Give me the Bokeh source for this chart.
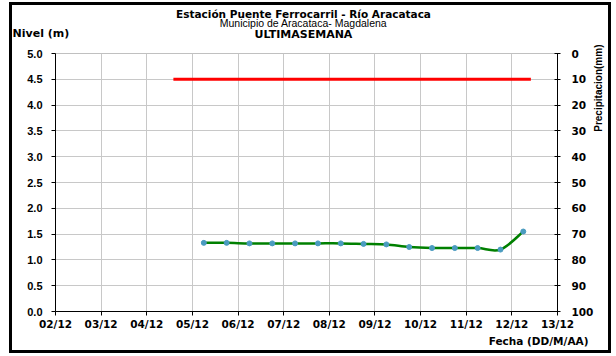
from bokeh.plotting import figure
from bokeh.models import Range1d, LinearAxis, FixedTicker, Label, PrintfTickFormatter
from bokeh.embed import file_html
from bokeh.resources import INLINE

# ---- data ----
fechas_ticks = ["02/12", "03/12", "04/12", "05/12", "06/12", "07/12",
                "08/12", "09/12", "10/12", "11/12", "12/12", "13/12"]
nivel_fechas = ["05/12 06:00", "05/12 18:00", "06/12 06:00", "06/12 18:00",
                "07/12 06:00", "07/12 18:00", "08/12 06:00", "08/12 18:00",
                "09/12 06:00", "09/12 18:00", "10/12 06:00", "10/12 18:00",
                "11/12 06:00", "11/12 18:00", "12/12 06:00"]
nivel_m = [1.33, 1.33, 1.32, 1.32, 1.32, 1.32, 1.32, 1.31,
           1.30, 1.25, 1.23, 1.23, 1.23, 1.20, 1.55]
alerta_fechas = ["04/12 14:00", "12/12 10:00"]
alerta_m = [4.5, 4.5]
nivel_ticks = [0.0, 0.5, 1.0, 1.5, 2.0, 2.5, 3.0, 3.5, 4.0, 4.5, 5.0]
precip_ticks = [0, 10, 20, 30, 40, 50, 60, 70, 80, 90, 100]


def to_days(s):
    day = int(s[0:2])
    hh = int(s[6:8])
    mm = int(s[9:11])
    return day - 2 + hh / 24 + mm / 1440


nx = [to_days(s) for s in nivel_fechas]
ax = [to_days(s) for s in alerta_fechas]

NARROW = "Liberation Sans"
WIDE = "DejaVu Sans"

p = figure(width=602, height=351, x_range=Range1d(0, 11), y_range=Range1d(0, 5),
           output_backend="svg", toolbar_location=None,
           min_border_left=46, min_border_right=54, min_border_top=51, min_border_bottom=42)
p.styles = {"margin-left": "9px", "margin-top": "2px",
            "outline": "3px solid black", "outline-offset": "-3px"}
p.extra_y_ranges = {"precip": Range1d(100, 0)}

p.outline_line_color = "#c0c0c0"
p.background_fill_color = "white"
p.border_fill_alpha = 0

# grids
p.xgrid.grid_line_color = "#c8c8c8"
p.ygrid.grid_line_color = "#c8c8c8"

# x axis
xa = p.xaxis[0]
xa.ticker = FixedTicker(ticks=list(range(len(fechas_ticks))))
xa.major_label_overrides = {i: t for i, t in enumerate(fechas_ticks)}
xa.major_tick_in = 0
xa.major_tick_out = 4
xa.minor_tick_line_color = None
xa.major_label_standoff = 2

# left axis
ya = p.yaxis[0]
ya.ticker = FixedTicker(ticks=nivel_ticks)
ya.formatter = PrintfTickFormatter(format="%.1f")
ya.major_tick_in = 0
ya.major_tick_out = 4
ya.minor_tick_line_color = None
ya.major_label_standoff = 9

# right axis
ra = LinearAxis(y_range_name="precip", ticker=FixedTicker(ticks=precip_ticks))
ra.major_tick_in = 3
ra.major_tick_out = 3
ra.minor_tick_line_color = None
ra.major_label_standoff = 11
p.add_layout(ra, "right")

for a, fnt, sz in ((xa, WIDE, "10.5px"), (ya, NARROW, "11px"), (ra, WIDE, "10.5px")):
    a.axis_line_color = "black"
    a.major_tick_line_color = "black"
    a.major_label_text_font = fnt
    a.major_label_text_font_style = "bold"
    a.major_label_text_font_size = sz
    a.major_label_text_color = "black"

# series
p.line(ax, alerta_m, line_color="#ff0000", line_width=3)

# smoothed curve through the measured points (Catmull-Rom style bezier)
n = len(nx)
x0, y0, x1, y1, cx0, cy0, cx1, cy1 = [], [], [], [], [], [], [], []
for i in range(n - 1):
    xm, ym = (nx[i - 1], nivel_m[i - 1]) if i > 0 else (nx[i], nivel_m[i])
    xp, yp = (nx[i + 2], nivel_m[i + 2]) if i + 2 < n else (nx[i + 1], nivel_m[i + 1])
    x0.append(nx[i]); y0.append(nivel_m[i])
    x1.append(nx[i + 1]); y1.append(nivel_m[i + 1])
    cx0.append(nx[i] + (nx[i + 1] - xm) / 6); cy0.append(nivel_m[i] + (nivel_m[i + 1] - ym) / 6)
    cx1.append(nx[i + 1] - (xp - nx[i]) / 6); cy1.append(nivel_m[i + 1] - (yp - nivel_m[i]) / 6)
p.bezier(x0=x0, y0=y0, x1=x1, y1=y1, cx0=cx0, cy0=cy0, cx1=cx1, cy1=cy1,
         line_color="#008000", line_width=2.5)
p.scatter(nx, nivel_m, size=5, fill_color="#4a9bc0", line_color="#4a9bc0")


# titles and axis labels, placed in the side panels (not clipped to the frame)
def lab(side, x, y, text, size, font=WIDE, bold=True, align="center", angle=0.0):
    p.add_layout(Label(x=x, y=y, text=text, text_font=font,
                       text_font_style="bold" if bold else "normal",
                       text_font_size=size, text_align=align, text_baseline="middle",
                       angle=angle, text_color="black"), side)


lab("above", 5.434, 5.756, "Estación Puente Ferrocarril - Río Aracataca", "10.5px")
lab("above", 5.434, 5.59, "Municipio de Aracataca- Magdalena", "10.5px", font=NARROW, bold=False)
lab("above", 5.434, 5.36, "ULTIMASEMANA", "11px")
lab("above", -0.94, 5.388, "Nivel (m)", "11px", align="left")
lab("below", 11.678, -0.581, "Fecha (DD/M/AA)", "10.5px", align="right")
lab("right", 11.90, 5.174, "Precipitacion(mm)", "10px", font=NARROW, align="right", angle=1.5708)

open("out.html", "w").write(file_html(p, INLINE))
